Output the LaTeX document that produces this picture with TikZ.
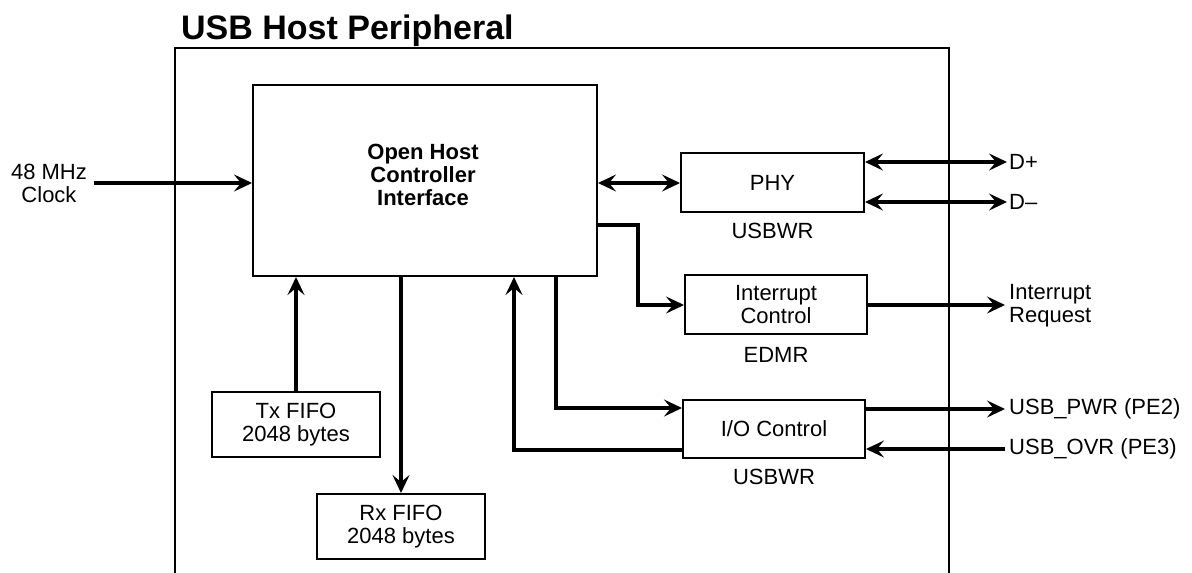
\documentclass[tikz,border=0pt]{standalone}
\usepackage{fontspec}
\setmainfont{Liberation Sans}
\usetikzlibrary{arrows.meta}
\begin{document}
\begin{tikzpicture}[x=1pt,y=-1pt,
  txt/.style={font=\fontsize{22}{23}\selectfont},
  box/.style={draw,line width=2pt,inner sep=0pt,txt,align=center},
  lbl/.style={inner sep=0pt,txt,align=center},
  conn/.style={line width=3.4pt},
  arr/.style={conn,-{Stealth[length=18pt,width=17pt,inset=7pt]}},
  darr/.style={conn,{Stealth[length=18pt,width=17pt,inset=7pt]}-{Stealth[length=18pt,width=17pt,inset=7pt]}}]
\useasboundingbox (0,0) rectangle (1192,573);
% title and outer frame
\node[anchor=base west,inner sep=0pt,font=\fontsize{34}{40}\selectfont\bfseries] (title) at (181,39) {USB Host Peripheral};
\draw[line width=2pt] (175,580) -- (175,48) -- (949,48) -- (949,580);
% blocks
\node[box,minimum width=344,minimum height=191] (ohci) at (425,180.5) {};
\node[lbl,font=\fontsize{22}{23}\selectfont\bfseries] (ohcit) at (423,175) {Open Host\\Controller\\Interface};
\node[box,minimum width=183,minimum height=59] (phy) at (772.5,182.5) {PHY};
\node[lbl] (phyl) at (772.5,231) {USBWR};
\node[box,minimum width=182,minimum height=59] (intc) at (776,304.5) {Interrupt\\Control};
\node[lbl] (edmr) at (776,355) {EDMR};
\node[box,minimum width=182,minimum height=58] (io) at (774,429) {I/O Control};
\node[lbl] (iol) at (774,477) {USBWR};
\node[box,minimum width=168,minimum height=65] (tx) at (296,424.5) {Tx FIFO\\2048 bytes};
\node[box,minimum width=168,minimum height=65] (rx) at (401,526.5) {Rx FIFO\\2048 bytes};
% outside labels
\node[lbl] (clk) at (49,183) {48 MHz\\Clock};
\node[lbl,anchor=west] (dp) at (1009,162) {D+};
\node[lbl,anchor=west] (dm) at (1009,202) {D–};
\node[lbl,anchor=west,align=left] (irq) at (1009,306) {Interrupt\\Request};
\node[lbl,anchor=west] (pwr) at (1009,409) {USB\_PWR (PE2)};
\node[lbl,anchor=west] (ovr) at (1009,449) {USB\_OVR (PE3)};
% free ends
\coordinate (clkstart) at (94,183);
\coordinate (dptip) at (1007,162);
\coordinate (dmtip) at (1007,202);
\coordinate (irqtip) at (1005,305);
\coordinate (pwrtip) at (1005,409);
\coordinate (ovrstart) at (1005,449);
% connectors
\draw[arr] (clkstart) -- (ohci.west |- clkstart);
\draw[darr] (ohci.east |- clkstart) -- (phy.west |- clkstart);
\draw[darr] (phy.east |- dptip) -- (dptip);
\draw[darr] (phy.east |- dmtip) -- (dmtip);
\draw[arr] (ohci.east |- 0,225) -- (638,225) -- (638,305) -- (intc.west |- 0,305);
\draw[arr] (intc.east |- irqtip) -- (irqtip);
\draw[arr] (ohci.south -| 556,0) -- (556,408) -- (io.west |- 0,408);
\draw[arr] (io.west |- 0,450) -- (514,450) -- (ohci.south -| 514,0);
\draw[arr] (io.east |- pwrtip) -- (pwrtip);
\draw[arr] (ovrstart) -- (io.east |- ovrstart);
\draw[arr] (tx.north) -- (tx.north |- ohci.south);
\draw[arr] (ohci.south -| rx.north) -- (rx.north);
\end{tikzpicture}
\end{document}
